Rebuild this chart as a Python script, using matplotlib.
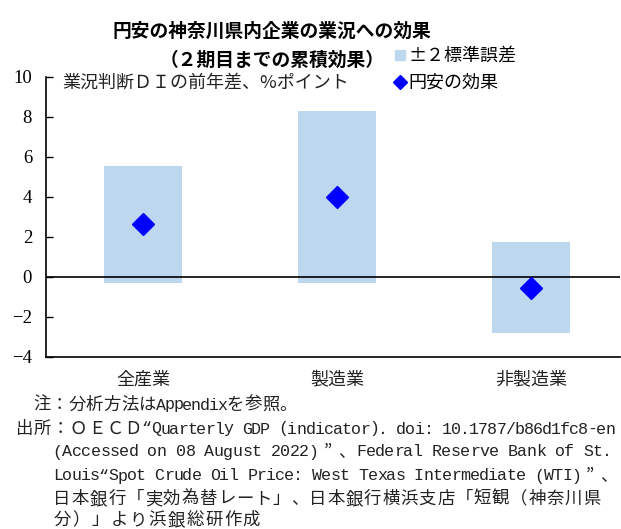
import matplotlib
matplotlib.use('Agg')
import matplotlib.pyplot as plt
from matplotlib.lines import Line2D

plt.rcParams['font.family'] = ['Noto Sans CJK JP', 'DejaVu Sans']

W, H = 621, 529

categories = ['全産業', '製造業', '非製造業']
effect = [2.62, 4.0, -0.54]       # 円安の効果
band_low = [-0.3, -0.3, -2.8]     # -2 標準誤差
band_high = [5.55, 8.3, 1.72]     # +2 標準誤差
yticks = [10, 8, 6, 4, 2, 0, -2, -4]

notes = [
    '注：分析方法はAppendixを参照。',
    '出所：ＯＥＣＤ“Quarterly GDP (indicator). doi: 10.1787/b86d1fc8-en',
    '(Accessed on 08 August 2022)”、Federal Reserve Bank of St.',
    'Louis“Spot Crude Oil Price: West Texas Intermediate (WTI)”、',
    '日本銀行「実効為替レート」、日本銀行横浜支店「短観（神奈川県',
    '分）」より浜銀総研作成',
]
# left edge, right edge and row of each note line (px)
note_layout = [(33, 297, 405), (15, 615, 429), (53, 612, 452),
               (53, 618, 476), (53, 601, 499), (53, 261, 520)]


def fx(px):
    return px / W


def fy(py):
    return 1 - py / H


def is_wide(ch):
    return ord(ch) > 0x2000 and ch not in '“'


def grid_text(fig, x0, x1, y, s, size=12.5):
    # fixed-pitch layout: wide characters take two cells, narrow ones one
    units = sum(2 if is_wide(c) else 1 for c in s)
    pitch = (x1 - x0) / units
    x = x0
    for c in s:
        w = 2 if is_wide(c) else 1
        if c != ' ':
            if w == 2:
                fam, fs = ['Noto Sans CJK JP'], size
            else:
                fam, fs = ['Liberation Mono', 'Noto Sans CJK JP'], size - 0.5
            fig.text(fx(x + w * pitch / 2), fy(y), c, ha='center', va='center',
                     fontsize=fs, family=fam, color='#222222')
        x += w * pitch


fig = plt.figure(figsize=(W / 100, H / 100), dpi=100)
ax = fig.add_axes([fx(46), fy(356.7), fx(620) - fx(46), fy(76.7) - fy(356.7)])

x = range(len(categories))
heights = [h - l for h, l in zip(band_high, band_low)]
ax.bar(x, heights, bottom=band_low, width=0.4, color='#bdd7ee', zorder=1)
ax.axhline(0, color='black', lw=1.2, zorder=2)
ax.plot(x, effect, linestyle='none', marker='D', markersize=11.5,
        color='#0000ff', zorder=3)

ax.set_xlim(-0.5, 2.46)
ax.set_ylim(-4, 10)
ax.set_yticks(yticks)
ax.set_yticklabels([str(t).replace('-', '\u2212') for t in yticks],
                   family='Liberation Serif', fontsize=13.5)
ax.tick_params(axis='y', direction='in', length=5, width=1, pad=10)
ax.set_xticks([])
for s in ['top', 'right']:
    ax.spines[s].set_visible(False)
ax.spines['left'].set_linewidth(1.2)
ax.spines['bottom'].set_linewidth(1.2)

for i, c in enumerate(categories):
    ax.text(i, -5.15, c, ha='center', va='center', fontsize=13, color='#222222')

ax.text(0.028, 0.98, '業況判断ＤＩの前年差、%ポイント', transform=ax.transAxes,
        ha='left', va='center', fontsize=13, color='#222222')

fig.text(fx(272), fy(31), '円安の神奈川県内企業の業況への効果', ha='center', va='center',
         fontsize=13.5, fontweight='bold')
fig.text(fx(272), fy(60), '（２期目までの累積効果）', ha='center', va='center',
         fontsize=13.5, fontweight='bold')

handles = [
    Line2D([], [], linestyle='none', marker='s', markersize=7, color='#bdd7ee'),
    Line2D([], [], linestyle='none', marker='D', markersize=7, color='#0000ff'),
]
fig.legend(handles, ['±２標準誤差', '円安の効果'], loc='upper left',
           bbox_to_anchor=(fx(395), fy(47)), frameon=False, fontsize=13,
           handlelength=0.6, handletextpad=0.15, labelspacing=0.5,
           borderaxespad=0, borderpad=0)

for (x0, x1, yy), line in zip(note_layout, notes):
    grid_text(fig, x0, x1, yy, line)

fig.savefig('out.png', dpi=100)
